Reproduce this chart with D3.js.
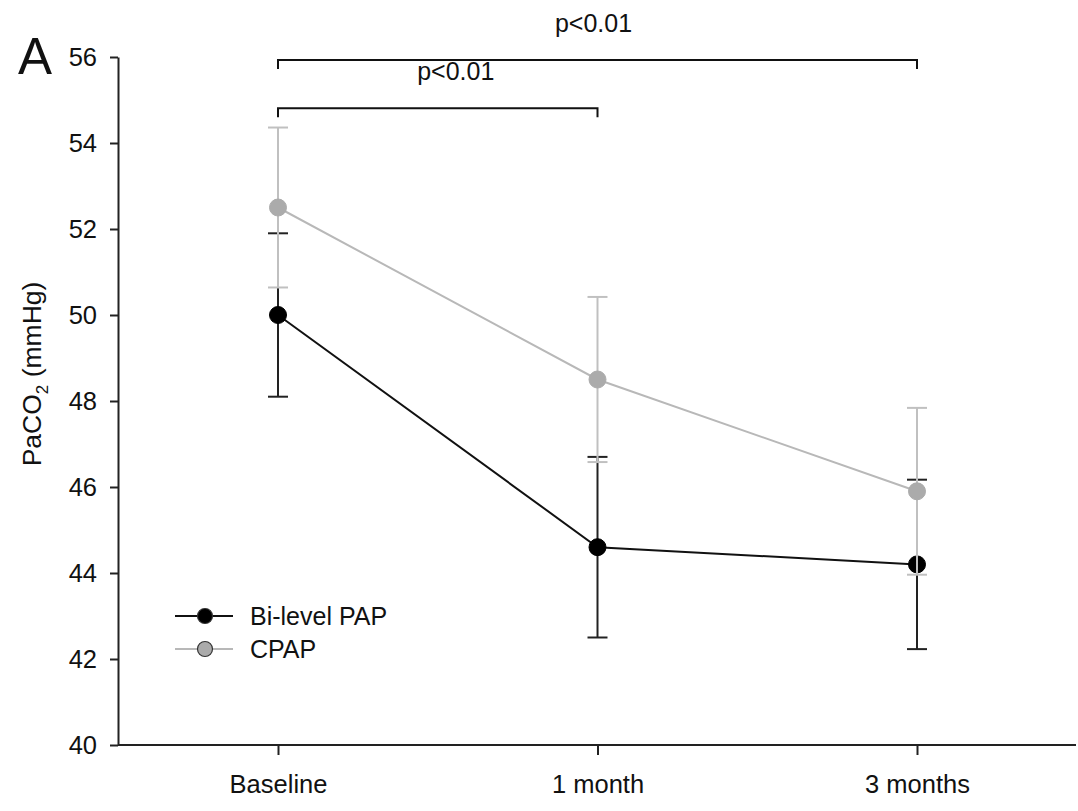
<!DOCTYPE html>
<html>
<head>
<meta charset="utf-8">
<script src="https://cdn.jsdelivr.net/npm/d3@7"></script>
<style>
  html, body { margin: 0; padding: 0; background: #fff; }
  svg text { font-family: "Liberation Sans", Arial, sans-serif; fill: #111; }
</style>
</head>
<body>
<svg id="chart" width="1078" height="811"></svg>
<script>
// ---- data ----
const categories = ["Baseline", "1 month", "3 months"];
const bilevelMean = [50.0, 44.6, 44.2];
const bilevelSD   = [1.9, 2.1, 1.97];
const cpapMean    = [52.5, 48.5, 45.9];
const cpapSD      = [1.86, 1.92, 1.94];
const yTicks      = [40, 42, 44, 46, 48, 50, 52, 54, 56];
const seriesNames = ["Bi-level PAP", "CPAP"];
const brackets = [
  { from: "Baseline", to: "3 months", level: 55.93, label: "p<0.01" },
  { from: "Baseline", to: "1 month",  level: 54.81, label: "p<0.01" }
];

// ---- layout ----
const svg = d3.select("#chart");
const axisX = 118, axisRight = 1076;
const y = d3.scaleLinear().domain([40, 56]).range([745, 57]);
const x = d3.scalePoint().domain(categories).range([278, 917]);
const axisColor = "#222";
const FONT = "Liberation Sans, Arial, sans-serif";

// y axis
const yAxis = svg.append("g").attr("transform", `translate(${axisX},0)`)
  .call(d3.axisLeft(y).tickValues(yTicks).tickSize(8).tickPadding(13).tickSizeOuter(0));
yAxis.select(".domain").attr("stroke", axisColor).attr("stroke-width", 2);
yAxis.selectAll(".tick line").attr("stroke", axisColor).attr("stroke-width", 2);
yAxis.selectAll(".tick text").attr("font-size", 25.5).attr("fill", "#111")
  .attr("font-family", FONT);

// x axis
const xAxis = svg.append("g").attr("transform", `translate(0,${y(40)})`)
  .call(d3.axisBottom(x).tickSize(10).tickPadding(20).tickSizeOuter(0));
xAxis.select(".domain").attr("d", `M${axisX},0H${axisRight}`)
  .attr("stroke", axisColor).attr("stroke-width", 2);
xAxis.selectAll(".tick line").attr("stroke", axisColor).attr("stroke-width", 2);
xAxis.selectAll(".tick text").attr("font-size", 25.5).attr("fill", "#111")
  .attr("font-family", FONT);

// y label
const yl = svg.append("text")
  .attr("transform", "translate(41,374) rotate(-90)")
  .attr("text-anchor", "middle").attr("font-size", 26.5);
yl.append("tspan").text("PaCO");
yl.append("tspan").text("2").attr("font-size", 17).attr("dy", 7);
yl.append("tspan").text(" (mmHg)").attr("dy", -7);

// panel letter
svg.append("text").attr("x", 18).attr("y", 74).attr("font-size", 51).text("A");

// brackets
brackets.forEach((b, i) => {
  const x1 = x(b.from), x2 = x(b.to), yy = y(b.level);
  svg.append("path")
    .attr("d", `M${x1},${yy + 9}V${yy}H${x2}V${yy + 9}`)
    .attr("fill", "none").attr("stroke", "#111").attr("stroke-width", 2);
  const mid = (x1 + x2) / 2 + (i === 0 ? -4 : 18);
  svg.append("text").attr("x", mid).attr("y", yy - 28)
    .attr("text-anchor", "middle").attr("font-size", 25).text(b.label);
});

// series
const series = [
  { name: seriesNames[0], mean: bilevelMean, sd: bilevelSD, line: "#111", bar: "#222", fill: "#000", stroke: "#000" },
  { name: seriesNames[1], mean: cpapMean, sd: cpapSD, line: "#b8b8b8", bar: "#c0c0c0", fill: "#ababab", stroke: "#ababab" }
];

series.forEach(s => {
  const g = svg.append("g");
  const pts = categories.map((c, i) => ({ c, m: s.mean[i], sd: s.sd[i] }));
  // error bars
  pts.forEach(p => {
    const cx = x(p.c);
    g.append("line").attr("x1", cx).attr("x2", cx)
      .attr("y1", y(p.m + p.sd)).attr("y2", y(p.m - p.sd))
      .attr("stroke", s.bar).attr("stroke-width", 2);
    [p.m + p.sd, p.m - p.sd].forEach(v => {
      g.append("line").attr("x1", cx - 10).attr("x2", cx + 10)
        .attr("y1", y(v)).attr("y2", y(v))
        .attr("stroke", s.bar).attr("stroke-width", 2);
    });
  });
  // line
  g.append("path").datum(pts)
    .attr("d", d3.line().x(p => x(p.c)).y(p => y(p.m)))
    .attr("fill", "none").attr("stroke", s.line).attr("stroke-width", 2);
  // points
  g.selectAll("circle").data(pts).join("circle")
    .attr("cx", p => x(p.c)).attr("cy", p => y(p.m)).attr("r", 8.5)
    .attr("fill", s.fill).attr("stroke", s.stroke).attr("stroke-width", 1);
});

// legend
const legend = svg.append("g").attr("transform", "translate(175,616)");
series.forEach((s, i) => {
  const gy = i * 33;
  legend.append("line").attr("x1", 0).attr("x2", 58).attr("y1", gy).attr("y2", gy)
    .attr("stroke", s.line).attr("stroke-width", 2);
  legend.append("circle").attr("cx", 30).attr("cy", gy).attr("r", 7.5)
    .attr("fill", s.fill).attr("stroke", "#333").attr("stroke-width", 1.2);
  legend.append("text").attr("x", 75).attr("y", gy + 9)
    .attr("font-size", 25).text(s.name);
});
</script>
</body>
</html>
